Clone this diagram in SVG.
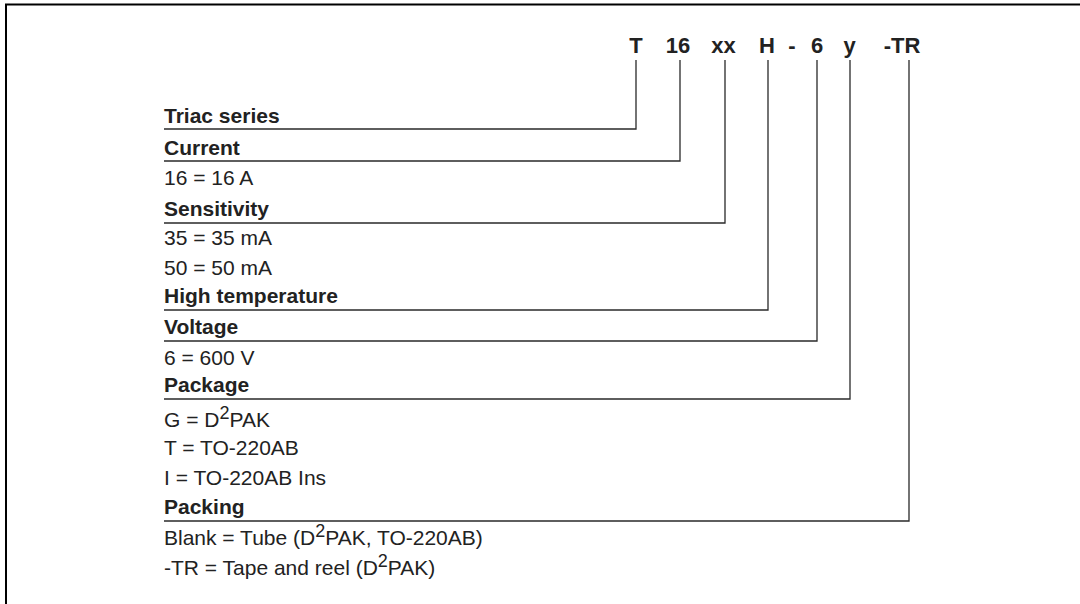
<svg xmlns="http://www.w3.org/2000/svg" width="1080" height="604" viewBox="0 0 1080 604">
<style>
.t{font-family:"Liberation Sans",Arial,Helvetica,sans-serif;font-size:21px;fill:#222}
.b{font-weight:bold}
.code{font-family:"Liberation Sans",Arial,Helvetica,sans-serif;font-size:22px;font-weight:bold;fill:#222;text-anchor:middle}
.sup{font-size:18px}
.ln{fill:none;stroke:#2a2a2a;stroke-width:1.3}
</style>
<rect width="1080" height="604" fill="#fff"/>
<path d="M6,604 V4.5 H1080" fill="none" stroke="#000" stroke-width="2"/>
<g id="code">
<text class="code" x="636" y="53">T</text>
<text class="code" x="678" y="53">16</text>
<text class="code" x="723.5" y="53">xx</text>
<text class="code" x="767" y="53">H</text>
<text class="code" x="792" y="53">-</text>
<text class="code" x="817" y="53">6</text>
<text class="code" x="849.5" y="53">y</text>
<text class="code" x="902" y="53">-TR</text>
</g>
<g id="connectors">
<polyline class="ln" points="636,60 636,129 164,129"/>
<polyline class="ln" points="680,60 680,161 164,161"/>
<polyline class="ln" points="725,60 725,223 164,223"/>
<polyline class="ln" points="768,60 768,310 164,310"/>
<polyline class="ln" points="817,60 817,341 164,341"/>
<polyline class="ln" points="850,60 850,399 164,399"/>
<polyline class="ln" points="909,60 909,521 164,521"/>
</g>
<g id="triac-series">
<text class="t b" x="164" y="123">Triac series</text>
</g>
<g id="current">
<text class="t b" x="164" y="155">Current</text>
<text class="t" x="164" y="185">16 = 16 A</text>
</g>
<g id="sensitivity">
<text class="t b" x="164" y="216">Sensitivity</text>
<text class="t" x="164" y="245">35 = 35 mA</text>
<text class="t" x="164" y="275">50 = 50 mA</text>
</g>
<g id="high-temperature">
<text class="t b" x="164" y="303">High temperature</text>
</g>
<g id="voltage">
<text class="t b" x="164" y="334">Voltage</text>
<text class="t" x="164" y="365">6 = 600 V</text>
</g>
<g id="package">
<text class="t b" x="164" y="392">Package</text>
<text class="t" x="164" y="427">G = D<tspan class="sup" dy="-8">2</tspan><tspan dy="8">PAK</tspan></text>
<text class="t" x="164" y="455">T = TO-220AB</text>
<text class="t" x="164" y="485">I = TO-220AB Ins</text>
</g>
<g id="packing">
<text class="t b" x="164" y="514">Packing</text>
<text class="t" x="164" y="545">Blank = Tube (D<tspan class="sup" dy="-8">2</tspan><tspan dy="8">PAK, TO-220AB)</tspan></text>
<text class="t" x="164" y="575">-TR = Tape and reel (D<tspan class="sup" dy="-8">2</tspan><tspan dy="8">PAK)</tspan></text>
</g>
</svg>
